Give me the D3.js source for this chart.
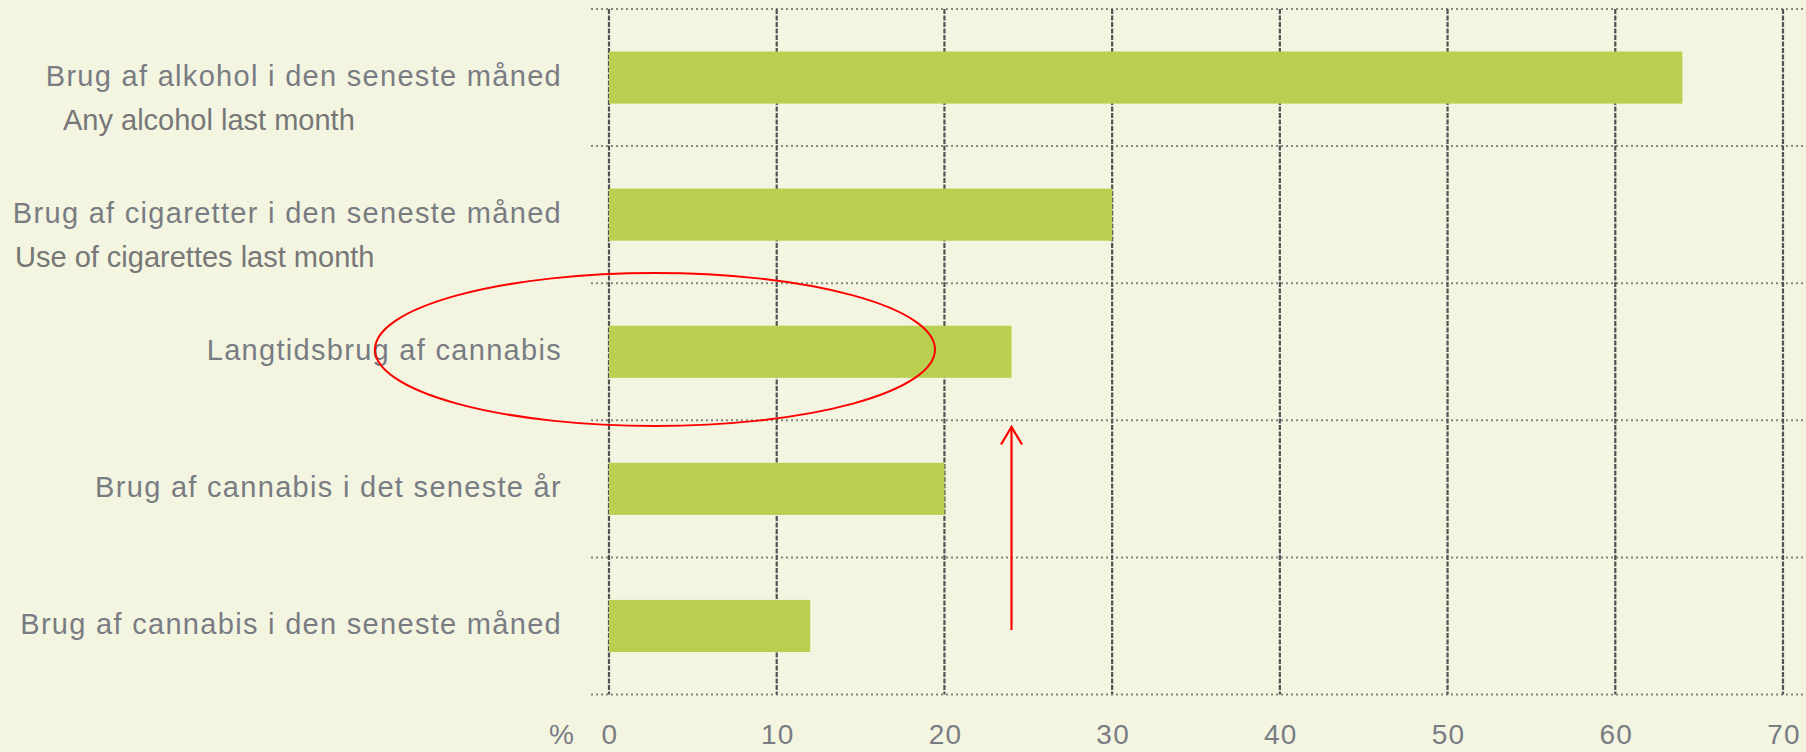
<!DOCTYPE html>
<html lang="da">
<head>
    <script type="text/javascript" src="https://cdn.jsdelivr.net/npm/d3@7"></script>
    <meta charset="UTF-8">
    <title>Brug af alkohol, cigaretter og cannabis</title>
</head>
<body>
<style>
    body { margin: 0; background: #f3f5e1; }
    svg { display: block; }
    .lbl { font-family: "Liberation Sans", Arial, sans-serif; font-size: 29px; letter-spacing: 1.3px; fill: #797c83; }
    .tick { font-family: "Liberation Sans", Arial, sans-serif; font-size: 28px; letter-spacing: 1.2px; fill: #797c83; }
    .note { font-family: "Liberation Sans", Arial, sans-serif; font-size: 29px; fill: #777; }
</style>
<script>
    // categories top to bottom, values in %
    var categories = [
        "Brug af alkohol i den seneste måned",
        "Brug af cigaretter i den seneste måned",
        "Langtidsbrug af cannabis",
        "Brug af cannabis i det seneste år",
        "Brug af cannabis i den seneste måned"
    ];
    var values = [64, 30, 24, 20, 12];
    var englishNotes = ["Any alcohol last month", "Use of cigarettes last month"];
    var tickValues = [0, 10, 20, 30, 40, 50, 60, 70];

    var width = 1806, height = 752;

    var svg = d3.select("body").append("svg")
        .attr("width", width)
        .attr("height", height);

    svg.append("rect")
        .attr("width", width)
        .attr("height", height)
        .attr("fill", "#f3f5e1");

    var x = d3.scaleLinear()
        .domain([0, 70])
        .range([609, 1783]);

    var y = d3.scaleBand()
        .domain(categories)
        .range([9, 694.5])
        .paddingInner(0.62)
        .paddingOuter(0.31);

    var step = y.step();
    var rowLines = d3.range(categories.length + 1).map(function(i){ return 9 + i * step; });

    // dotted horizontal separators
    svg.append("g").selectAll("line")
        .data(rowLines)
        .enter().append("line")
        .attr("x1", 591)
        .attr("x2", width)
        .attr("y1", function(d){ return d; })
        .attr("y2", function(d){ return d; })
        .attr("stroke", "#85867f")
        .attr("stroke-width", 2)
        .attr("stroke-dasharray", "2,3");

    // vertical dashed grid
    svg.append("g").selectAll("line")
        .data(tickValues)
        .enter().append("line")
        .attr("x1", function(d){ return x(d); })
        .attr("x2", function(d){ return x(d); })
        .attr("y1", rowLines[0])
        .attr("y2", rowLines[rowLines.length - 1])
        .attr("stroke", "#515254")
        .attr("stroke-width", 2.2)
        .attr("stroke-dasharray", "5,1.5");

    // bars
    svg.append("g").selectAll("rect")
        .data(values)
        .enter().append("rect")
        .attr("x", x(0))
        .attr("y", function(d, i){ return y(categories[i]); })
        .attr("width", function(d){ return x(d) - x(0); })
        .attr("height", y.bandwidth())
        .attr("fill", "#b8cf4f");

    // danish category labels
    svg.append("g").selectAll("text")
        .data(categories)
        .enter().append("text")
        .attr("class", "lbl")
        .attr("x", 562)
        .attr("y", function(d){ return y(d) + y.bandwidth() / 2 + 8; })
        .attr("text-anchor", "end")
        .text(function(d){ return d; });

    // english notes under first two labels
    var noteX = [63, 15];
    svg.append("g").selectAll("text")
        .data(englishNotes)
        .enter().append("text")
        .attr("class", "note")
        .attr("x", function(d, i){ return noteX[i]; })
        .attr("y", function(d, i){ return y(categories[i]) + y.bandwidth() / 2 + 52; })
        .text(function(d){ return d; });

    // x tick labels
    svg.append("g").selectAll("text")
        .data(tickValues)
        .enter().append("text")
        .attr("class", "tick")
        .attr("x", function(d){ return x(d) + 1; })
        .attr("y", 744)
        .attr("text-anchor", "middle")
        .text(function(d){ return d; });

    svg.append("text")
        .attr("class", "tick")
        .attr("x", 562)
        .attr("y", 744)
        .attr("text-anchor", "middle")
        .text("%");

    // red annotations
    svg.append("ellipse")
        .attr("cx", 655)
        .attr("cy", 349.5)
        .attr("rx", 280)
        .attr("ry", 76.5)
        .attr("fill", "none")
        .attr("stroke", "#ff0000")
        .attr("stroke-width", 2);

    var ax = x(values[2]);
    svg.append("line")
        .attr("x1", ax).attr("x2", ax)
        .attr("y1", 630).attr("y2", 427)
        .attr("stroke", "#ff0000")
        .attr("stroke-width", 2.2);

    svg.append("path")
        .attr("d", "M" + (ax - 10.5) + ",444.5L" + ax + ",427L" + (ax + 10.5) + ",444.5")
        .attr("fill", "none")
        .attr("stroke", "#ff0000")
        .attr("stroke-width", 2.2);
</script>
</body>
</html>
